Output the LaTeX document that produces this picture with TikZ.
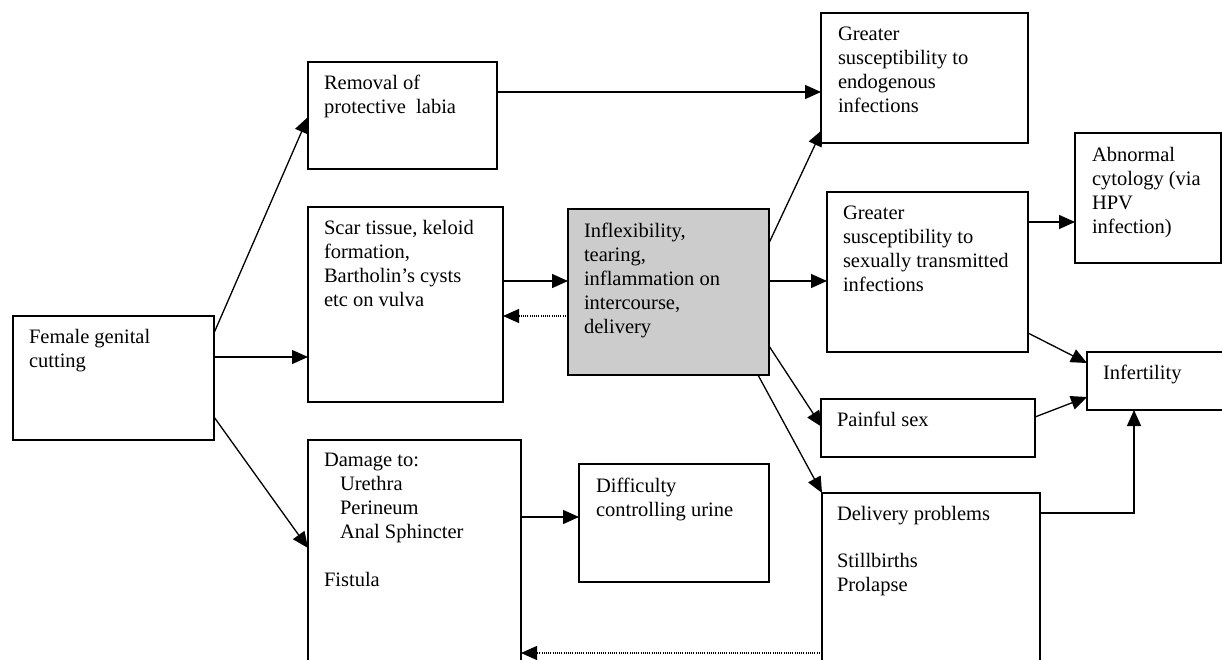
\documentclass[tikz,border=0pt]{standalone}
\usepackage{fontspec}
\setmainfont{Liberation Serif}
\usetikzlibrary{arrows.meta,calc}
\definecolor{boxgrey}{RGB}{204,204,204}
\begin{document}
\begin{tikzpicture}[x=1pt,y=-1pt]
\tikzset{
 box/.style={draw, line width=1.3pt, inner sep=0pt, outer sep=0pt, anchor=north west},
 txt/.style={inner sep=0pt, outer sep=0pt, anchor=north west, align=left, font=\fontsize{20.5}{24}\selectfont},
 arr/.style={line width=1.3pt, -{Triangle[length=16pt,width=14pt]}},
 dotarr/.style={line width=1.1pt, dash pattern=on 1.1pt off 1.1pt, -{Triangle[length=16pt,width=14pt]}}
}
\useasboundingbox (0,0) rectangle (1222,660);
\clip (0,0) rectangle (1222,660);
% boxes
\node[box, minimum width=201pt, minimum height=124pt] (fgc) at (13,316) {};
\node[box, minimum width=189pt, minimum height=107pt] (removal) at (308,62) {};
\node[box, minimum width=195pt, minimum height=195pt] (scar) at (308,207) {};
\node[box, minimum width=213pt, minimum height=240pt] (damage) at (308,440) {};
\node[box, fill=boxgrey, minimum width=201pt, minimum height=166pt] (inflex) at (568,209) {};
\node[box, minimum width=190pt, minimum height=118pt] (difficulty) at (579,464) {};
\node[box, minimum width=207pt, minimum height=130pt] (endo) at (821,13) {};
\node[box, minimum width=201pt, minimum height=160pt] (std) at (827,192) {};
\node[box, minimum width=146pt, minimum height=130pt] (abnormal) at (1075,133) {};
\node[box, minimum width=160pt, minimum height=58pt] (infert) at (1087,352) {};
\node[box, minimum width=214pt, minimum height=58pt] (painful) at (821,399) {};
\node[box, minimum width=218pt, minimum height=187pt] (delivery) at (822,493) {};
% texts
\node[txt] (fgct) at ($(fgc.north west)+(16,13.5)$) {Female genital\\cutting};
\node[txt] (removalt) at ($(removal.north west)+(16,13.5)$) {Removal of\\protective\ \ labia};
\node[txt] (scart) at ($(scar.north west)+(16,13.5)$) {Scar tissue, keloid\\formation,\\Bartholin’s cysts\\etc on vulva};
\node[txt] (damaget) at ($(damage.north west)+(16,13.5)$) {Damage to:\\\hspace*{16pt}Urethra\\\hspace*{16pt}Perineum\\\hspace*{16pt}Anal Sphincter\\[24pt]Fistula};
\node[txt] (inflext) at ($(inflex.north west)+(16,14)$) {Inflexibility,\\tearing,\\inflammation on\\intercourse,\\delivery};
\node[txt] (difficultyt) at ($(difficulty.north west)+(17,14)$) {Difficulty\\controlling urine};
\node[txt] (endot) at ($(endo.north west)+(17,13.5)$) {Greater\\susceptibility to\\endogenous\\infections};
\node[txt] (stdt) at ($(std.north west)+(16,14)$) {Greater\\susceptibility to\\sexually transmitted\\infections};
\node[txt] (abnormalt) at ($(abnormal.north west)+(17,14)$) {Abnormal\\cytology (via\\HPV\\infection)};
\node[txt] (infertt) at ($(infert.north west)+(16,13.5)$) {Infertility};
\node[txt] (painfult) at ($(painful.north west)+(16,13.5)$) {Painful sex};
\node[txt] (deliveryt) at ($(delivery.north west)+(15,13.5)$) {Delivery problems\\[23pt]Stillbirths\\Prolapse};
% arrows
\draw[arr] ($(fgc.north east)+(0,17)$) -- ($(removal.north west)+(0,55)$);
\draw[arr] ($(fgc.north east)+(0,41)$) -- ($(scar.north west)+(0,150)$);
\draw[arr] ($(fgc.north east)+(0,101)$) -- ($(damage.north west)+(0,108)$);
\draw[arr] ($(removal.north east)+(0,30)$) -- ($(endo.north west)+(0,79)$);
\draw[arr] ($(scar.north east)+(0,74)$) -- ($(inflex.north west)+(0,72)$);
\draw[dotarr] ($(inflex.north west)+(0,107)$) -- ($(scar.north east)+(0,109)$);
\draw[arr] ($(inflex.north east)+(0,34)$) -- ($(endo.south west)+(1,-13)$);
\draw[arr] ($(inflex.north east)+(0,72)$) -- ($(std.north west)+(0,89)$);
\draw[arr] ($(inflex.north east)+(0,137)$) -- ($(painful.north west)+(1,28)$);
\draw[arr] ($(inflex.south east)+(-11,0)$) -- (delivery.north west);
\draw[arr] ($(std.north east)+(0,30)$) -- ($(abnormal.north west)+(0,89)$);
\draw[arr] ($(std.north east)+(0,141)$) -- ($(infert.north west)+(0,11)$);
\draw[arr] ($(painful.north east)+(0,18)$) -- ($(infert.north west)+(0,45)$);
\draw[arr] ($(delivery.north east)+(0,20)$) -| ($(infert.south west)+(47,0)$);
\draw[arr] ($(damage.north east)+(0,77)$) -- ($(difficulty.north west)+(0,53)$);
\draw[dotarr] ($(delivery.north west)+(0,160)$) -- ($(damage.north east)+(0,213)$);
\end{tikzpicture}
\end{document}
